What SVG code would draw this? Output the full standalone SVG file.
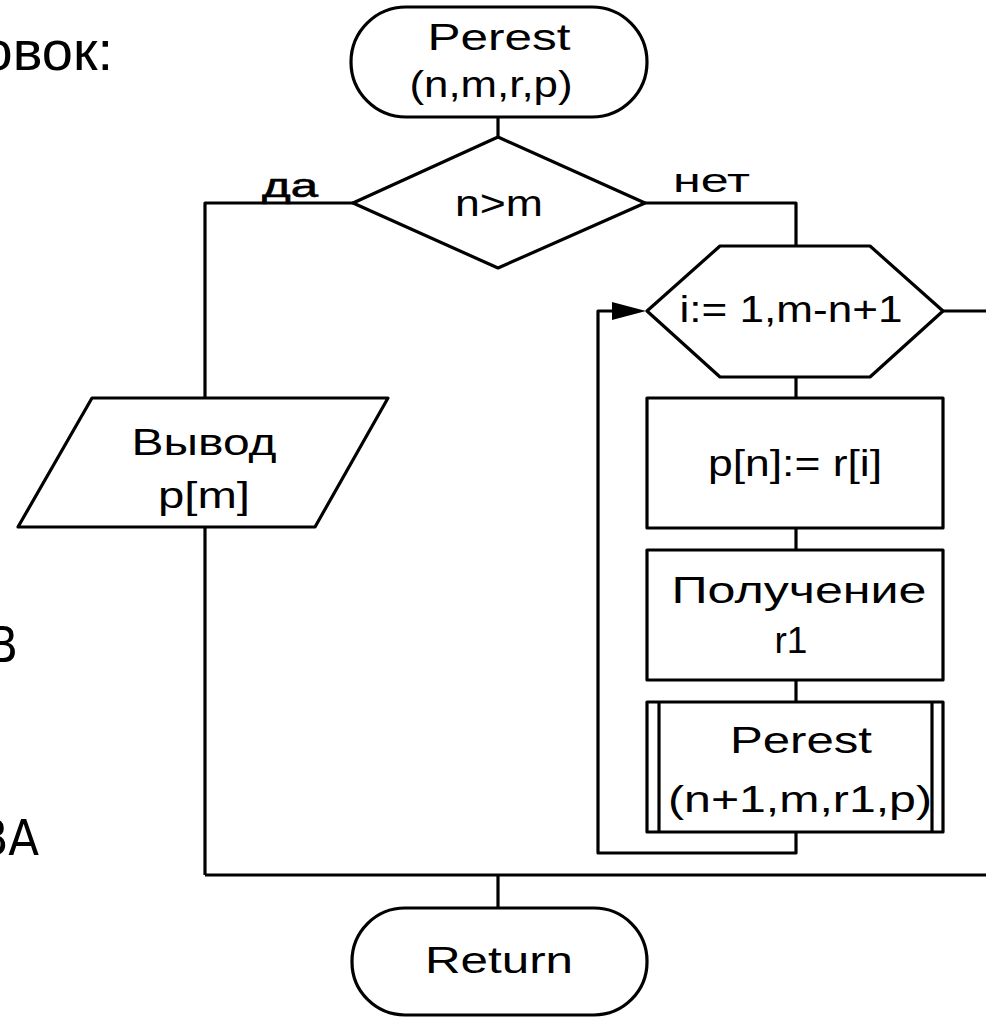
<svg xmlns="http://www.w3.org/2000/svg" width="986" height="1020" viewBox="0 0 986 1020">
<defs>
<style>
.s{fill:#fff;stroke:#000;stroke-width:3.2;stroke-linejoin:round}
.c{fill:none;stroke:#000;stroke-width:3.2;stroke-linejoin:round}
.t{font-family:"Liberation Sans",Arial,sans-serif;font-size:37px;fill:#000;text-anchor:middle}
.l{font-family:"Liberation Sans",Arial,sans-serif;font-size:34px;fill:#000}
.n{font-family:"Liberation Sans Narrow","DejaVu Sans Condensed",sans-serif;font-stretch:condensed;font-size:50px;fill:#000;text-anchor:end}
</style>
</defs>
<rect width="986" height="1020" fill="#fff"/>
<g id="side-text">
<text class="l" x="113" y="70" text-anchor="end" style="font-size:56px">овок:</text>
<text class="n" x="18" y="662">В</text>
<text class="n" x="39" y="855">ВА</text>
</g>
<g id="connectors">
<line class="c" x1="498" y1="117" x2="498" y2="137"/>
<polyline class="c" points="353,203 205,203 205,398"/>
<line class="c" x1="205" y1="527" x2="205" y2="875"/>
<polyline class="c" points="645,203 796,203 796,246"/>
<line class="c" x1="796" y1="377" x2="796" y2="398"/>
<line class="c" x1="796" y1="528" x2="796" y2="550"/>
<line class="c" x1="796" y1="680" x2="796" y2="702"/>
<polyline class="c" points="796,832 796,853 598,853 598,311 612,311"/>
<path d="M612,302 L646,311 L612,320 z" fill="#000"/>
<line class="c" x1="943" y1="311" x2="986" y2="311"/>
<line class="c" x1="205" y1="875" x2="986" y2="875"/>
<line class="c" x1="498" y1="875" x2="498" y2="908"/>
<text class="l" x="262" y="197" textLength="56" lengthAdjust="spacingAndGlyphs" style="stroke:#000;stroke-width:0.6">да</text>
<text class="l" x="673" y="192" textLength="77" lengthAdjust="spacingAndGlyphs">нет</text>
</g>
<g id="start">
<rect class="s" x="351" y="7" width="296" height="110" rx="55" ry="55"/>
<text class="t" x="499" y="50" textLength="143" lengthAdjust="spacingAndGlyphs">Perest</text>
<text class="t" x="491" y="97" textLength="163" lengthAdjust="spacingAndGlyphs">(n,m,r,p)</text>
</g>
<g id="decision">
<polygon class="s" points="498,137 645,203 498,268 353,203"/>
<text class="t" x="499" y="216" textLength="88" lengthAdjust="spacingAndGlyphs">n&gt;m</text>
</g>
<g id="loop">
<polygon class="s" points="647,311 720,246 870,246 943,311 870,377 720,377"/>
<text class="t" x="791" y="322" textLength="223" lengthAdjust="spacingAndGlyphs">i:= 1,m-n+1</text>
</g>
<g id="assign">
<rect class="s" x="647" y="398" width="296" height="130"/>
<text class="t" x="795" y="476" textLength="174" lengthAdjust="spacingAndGlyphs">p[n]:= r[i]</text>
</g>
<g id="get">
<rect class="s" x="647" y="550" width="296" height="130"/>
<text class="t" x="799" y="603" textLength="255" lengthAdjust="spacingAndGlyphs">Получение</text>
<text class="t" x="791" y="653" textLength="33" lengthAdjust="spacingAndGlyphs">r1</text>
</g>
<g id="call">
<rect class="s" x="647" y="702" width="296" height="130"/>
<line class="c" x1="659" y1="702" x2="659" y2="832"/>
<line class="c" x1="932" y1="702" x2="932" y2="832"/>
<text class="t" x="801" y="753" textLength="142" lengthAdjust="spacingAndGlyphs">Perest</text>
<text class="t" x="800" y="812" textLength="264" lengthAdjust="spacingAndGlyphs">(n+1,m,r1,p)</text>
</g>
<g id="output">
<polygon class="s" points="92,398 388,398 315,527 18,527"/>
<text class="t" x="204" y="455" textLength="145" lengthAdjust="spacingAndGlyphs">Вывод</text>
<text class="t" x="204" y="508" textLength="92" lengthAdjust="spacingAndGlyphs">p[m]</text>
</g>
<g id="return">
<rect class="s" x="352" y="908" width="295" height="107" rx="53" ry="53"/>
<text class="t" x="499" y="973" textLength="148" lengthAdjust="spacingAndGlyphs">Return</text>
</g>
</svg>
